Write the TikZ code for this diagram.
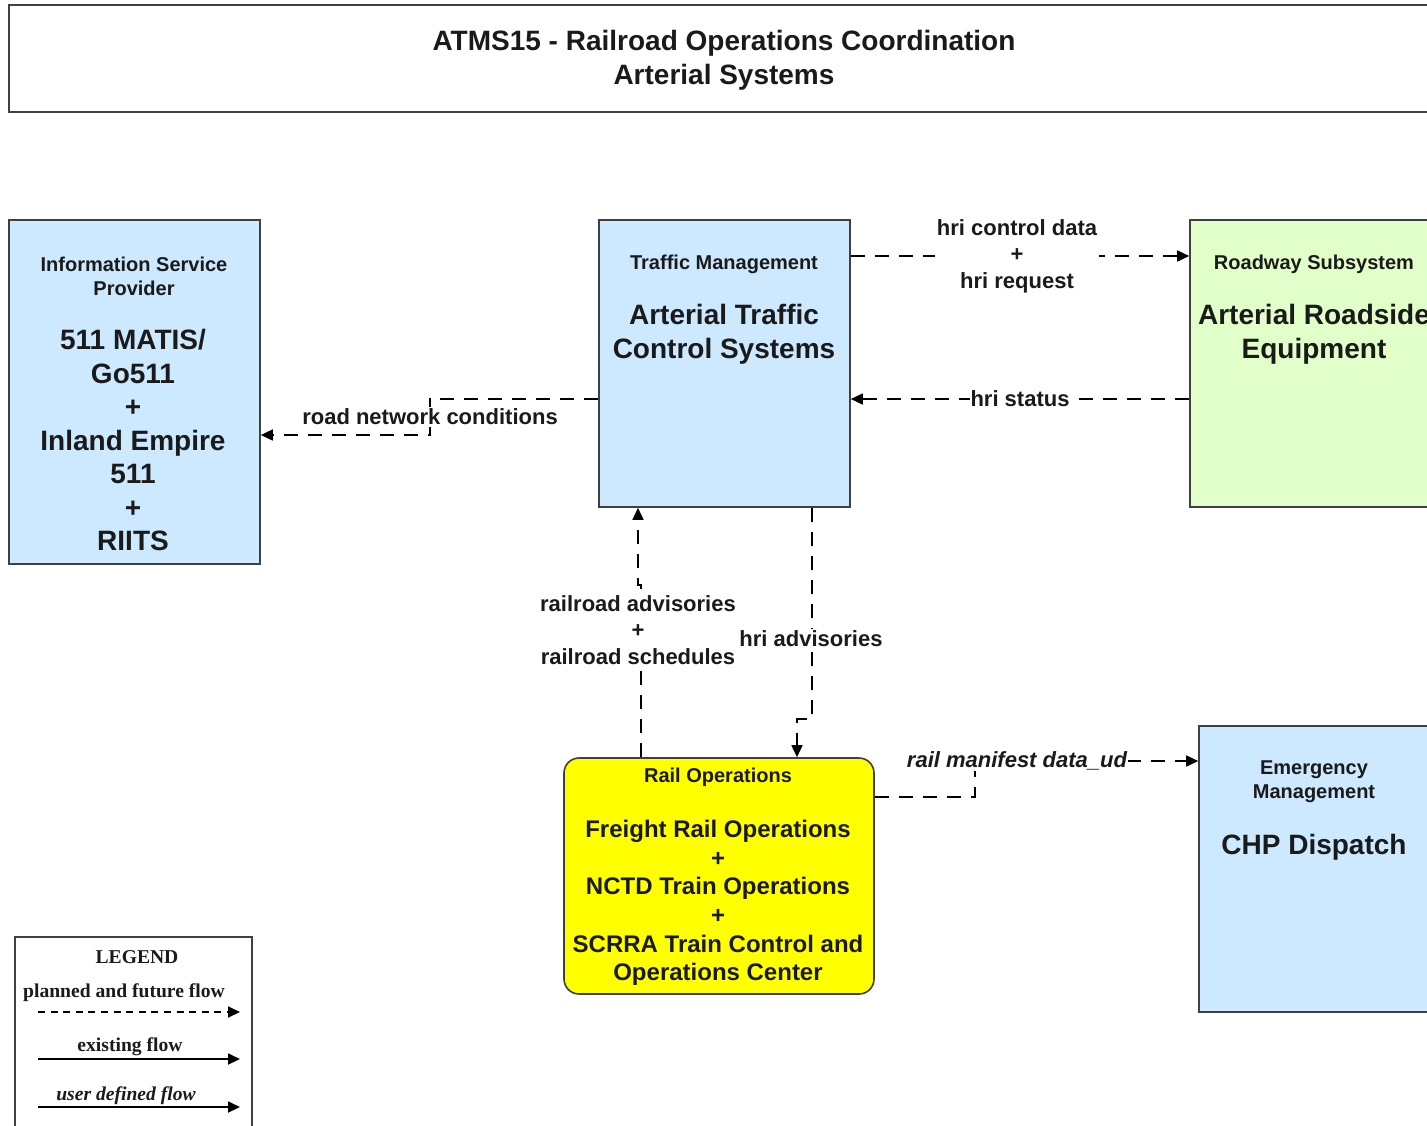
\documentclass[tikz,border=0pt]{standalone}
\usepackage{fontspec}
\setmainfont{Liberation Sans}
\newfontfamily\legendfont{Liberation Serif}
\usetikzlibrary{arrows.meta}
\definecolor{boxblue}{HTML}{CCE9FF}
\definecolor{boxgreen}{HTML}{E1FFC8}
\definecolor{railyellow}{HTML}{FFFF00}
\definecolor{edgegray}{HTML}{404040}
\definecolor{ink}{HTML}{1A1A1A}
\begin{document}
\begin{tikzpicture}[x=0.5pt,y=-0.5pt,
  sysbox/.style={draw=edgegray, line width=0.8pt, inner sep=0pt},
  flow/.style={draw=black, line width=0.8pt, dash pattern=on 7pt off 5pt, -{Triangle[length=6pt,width=5.5pt]}},
  solidflow/.style={draw=black, line width=0.9pt, -{Triangle[length=6pt,width=5.5pt]}},
  legflow/.style={draw=black, line width=0.9pt, dash pattern=on 3.5pt off 2.8pt, -{Triangle[length=6pt,width=5.5pt]}},
  small/.style={font=\fontsize{10}{12}\selectfont\bfseries, align=center, text=ink, inner sep=0pt},
  big/.style={font=\fontsize{14}{16.9}\selectfont\bfseries, align=center, text=ink, inner sep=0pt},
  railtext/.style={font=\fontsize{12}{14.3}\selectfont\bfseries, align=center, text=ink, inner sep=0pt},
  flowlabel/.style={font=\fontsize{11}{13}\selectfont\bfseries, align=center, fill=white, inner sep=1pt, text=ink},
  legtext/.style={font=\legendfont\fontsize{9.8}{11}\selectfont\bfseries, inner sep=0pt, text=ink},
]
\useasboundingbox (0,0) rectangle (1427,1125);
\clip (0,0) rectangle (1427,1125);

% title
\node[sysbox, fill=white, minimum width=715.5pt, minimum height=53.5pt] (title) at (724.5,58.5) {};
\node[font=\fontsize{14}{17}\selectfont\bfseries, align=center, text=ink, inner sep=0pt] (titletext) at (724,60)
  {ATMS15 - Railroad Operations Coordination\\Arterial Systems};

% boxes
\node[sysbox, fill=boxblue, minimum width=125.5pt, minimum height=172pt] (isp) at (134.5,392) {};
\node[sysbox, fill=boxblue, minimum width=125.5pt, minimum height=143.5pt] (tm) at (724.5,363.5) {};
\node[sysbox, fill=boxgreen, minimum width=125.5pt, minimum height=143.5pt] (rw) at (1315.5,363.5) {};
\node[sysbox, fill=railyellow, rounded corners=7.5pt, minimum width=155pt, minimum height=118pt] (rail) at (719,876) {};
\node[sysbox, fill=boxblue, minimum width=115.5pt, minimum height=143pt] (em) at (1314.5,869) {};

% box texts
\node[small] (ispcat) at (134,276) {Information Service\\Provider};
\node[big, font=\fontsize{14}{16.75}\selectfont\bfseries] (ispname) at (133,440) {511 MATIS/\\Go511\\+\\Inland Empire\\511\\+\\RIITS};
\node[small] (tmcat) at (724,264) {Traffic Management};
\node[big] (tmname) at (724,334) {Arterial Traffic\\Control Systems};
\node[small] (rwcat) at (1314,264) {Roadway Subsystem};
\node[big] (rwname) at (1314,334) {Arterial Roadside\\Equipment};
\node[small] (railcat) at (718,777) {Rail Operations};
\node[railtext] (railname) at (718,903) {Freight Rail Operations\\+\\NCTD Train Operations\\+\\SCRRA Train Control and\\Operations Center};
\node[small] (emcat) at (1314,782) {Emergency\\Management};
\node[big] (emname) at (1314,847) {CHP Dispatch};

% flows
\draw[flow] (tm.east |- 0,256) -- node[flowlabel, font=\fontsize{11}{13.2}\selectfont\bfseries, xshift=-1.5pt] (lab1) {hri control data\\+\\hri request} (rw.west |- 0,256);
\draw[flow] (rw.west |- 0,399) -- node[flowlabel, inner sep=0.5pt] (lab2) {hri status} (tm.east |- 0,399);
\draw[flow] (tm.west |- 0,399) -- (430,399) -- node[flowlabel] (lab3) {road network conditions} (430,435) -- (isp.east |- 0,435);
\draw[flow] (641,0 |- rail.north) -- (641,585) -- (638,585) -- (638,0 |- tm.south);
\node[flowlabel, font=\fontsize{11}{13.2}\selectfont\bfseries] (lab4) at (638,630) {railroad advisories\\+\\railroad schedules};
\draw[flow] (812,0 |- tm.south) -- (812,719) -- (797,719) -- (797,0 |- rail.north);
\node[flowlabel] (lab5) at (811,639) {hri advisories};
\draw[flow] (rail.east |- 0,797) -- (975,797) -- (975,761) -- (em.west |- 0,761);
\node[flowlabel, font=\fontsize{11}{13}\selectfont\bfseries\itshape, inner sep=0.5pt] (lab6) at (1017,761) {rail manifest data\_ud};

% legend
\node[draw=edgegray, line width=0.8pt, fill=white, minimum width=118.5pt, minimum height=105pt, inner sep=0pt] (legend) at (133.5,1042) {};
\node[legtext] (legtitle) at (137,957) {LEGEND};
\node[legtext] (leg1) at (124,993) {planned and future flow};
\coordinate (l1a) at (38,1012); \coordinate (l1b) at (240,1012);
\draw[legflow] (l1a) -- (l1b);
\node[legtext] (leg2) at (130,1047) {existing flow};
\coordinate (l2a) at (38,1059); \coordinate (l2b) at (240,1059);
\draw[solidflow] (l2a) -- (l2b);
\node[legtext, font=\legendfont\fontsize{9.8}{11}\selectfont\bfseries\itshape] (leg3) at (126,1096) {user defined flow};
\coordinate (l3a) at (38,1107); \coordinate (l3b) at (240,1107);
\draw[solidflow] (l3a) -- (l3b);
\end{tikzpicture}
\end{document}
